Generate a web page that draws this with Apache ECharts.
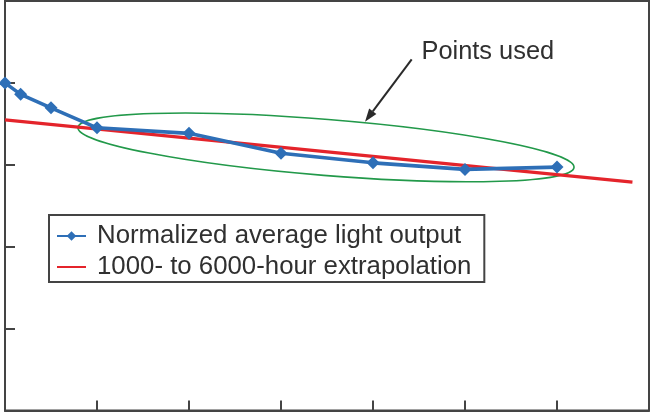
<!DOCTYPE html>
<html><head><meta charset="utf-8">
<script src="https://cdn.jsdelivr.net/npm/echarts@6/dist/echarts.min.js"></script>
<style>html,body{margin:0;padding:0;background:#fff}#c{width:650px;height:413px}</style>
</head><body><div id="c"></div>
<script>
// ---- data ----
const hours = [0, 170, 500, 1000, 2000, 3000, 4000, 5000, 6000];
const lightOutput = [100, 96.5, 92.4, 86.3, 84.6, 78.5, 75.6, 73.6, 74.3];
const extrapHours = [0, 6820];
const extrapValues = [88.7, 69.7];
const xRange = [0, 7000, 1000];
const yRange = [0, 125, 25];
const seriesNames = ['Normalized average light output', '1000- to 6000-hour extrapolation'];
const annotationText = 'Points used';
const ellipseEnds = [[793, 86.4], [6185, 74.2]];

const axisColor = '#444';
const textColor = '#303030';
const blue = '#2e6fb7';
const red = '#e4242b';

const chart = echarts.init(document.getElementById('c'), null, {renderer: 'canvas'});
const option = {
  animation: false,
  backgroundColor: '#fff',
  grid: {left: 5, right: 1, top: 1, bottom: 2.5, show: true, borderColor: axisColor, borderWidth: 2, containLabel: false},
  xAxis: {
    type: 'value', min: xRange[0], max: xRange[1], interval: xRange[2],
    axisLine: {show: true, lineStyle: {color: axisColor, width: 2}},
    axisTick: {show: true, inside: true, length: 10, lineStyle: {color: axisColor, width: 2}},
    axisLabel: {show: false}, splitLine: {show: false}
  },
  yAxis: {
    type: 'value', min: yRange[0], max: yRange[1], interval: yRange[2],
    axisLine: {show: true, lineStyle: {color: axisColor, width: 2}},
    axisTick: {show: true, inside: true, length: 10, lineStyle: {color: axisColor, width: 2}},
    axisLabel: {show: false}, splitLine: {show: false}
  },
  legend: {
    left: 49, top: 215, orient: 'vertical',
    backgroundColor: '#fff',
    borderColor: axisColor, borderWidth: 2,
    padding: [8, 13, 2, 7],
    itemGap: 5, itemWidth: 29, itemHeight: 12,
    textStyle: {fontFamily: 'Liberation Sans, Arial, sans-serif', fontSize: 25.8, color: textColor, padding: [0, 0, 0, 6]},
    data: [
      {name: seriesNames[0]},
      {name: seriesNames[1], itemStyle: {opacity: 0}}
    ]
  },
  series: [
    {
      name: seriesNames[1], type: 'line', z: 2,
      data: extrapHours.map((h, i) => [h, extrapValues[i]]),
      showSymbol: false, symbol: 'none',
      lineStyle: {color: red, width: 3.2}, itemStyle: {color: red}
    },
    {
      name: seriesNames[0], type: 'line', z: 3,
      data: hours.map((h, i) => [h, lightOutput[i]]),
      symbol: 'diamond', symbolSize: 13,
      lineStyle: {color: blue, width: 3.6}, itemStyle: {color: blue}
    }
  ]
};
chart.setOption(option);

// annotations
const p1 = chart.convertToPixel({gridIndex: 0}, ellipseEnds[0]);
const p2 = chart.convertToPixel({gridIndex: 0}, ellipseEnds[1]);
const cx = (p1[0] + p2[0]) / 2, cy = (p1[1] + p2[1]) / 2;
const dx = p2[0] - p1[0], dy = p2[1] - p1[1];
const ang = Math.atan2(dy, dx);
const rx = Math.sqrt(dx * dx + dy * dy) / 2;

const tip = [365, 121.7], tail = [411.7, 59.3];
const L = Math.hypot(tail[0] - tip[0], tail[1] - tip[1]);
const u = [(tip[0] - tail[0]) / L, (tip[1] - tail[1]) / L];
const base = [tip[0] - 13 * u[0], tip[1] - 13 * u[1]];
const n = [-u[1], u[0]];
chart.setOption({
  graphic: [
    {type: 'ellipse', x: cx, y: cy, rotation: -ang, z: 1,
     shape: {cx: 0, cy: 0, rx: rx, ry: 28},
     style: {fill: 'none', stroke: '#22994a', lineWidth: 1.6}},
    {type: 'line', z: 5, shape: {x1: tail[0], y1: tail[1], x2: base[0], y2: base[1]},
     style: {stroke: '#2a2a2a', lineWidth: 2}},
    {type: 'polygon', z: 5, shape: {points: [tip, [base[0] + 4.5 * n[0], base[1] + 4.5 * n[1]], [base[0] - 4.5 * n[0], base[1] - 4.5 * n[1]]]},
     style: {fill: '#2a2a2a'}},
    {type: 'text', z: 5, x: 421.5, y: 52.2,
     style: {text: annotationText, font: '25.4px "Liberation Sans", Arial, sans-serif', fill: textColor, align: 'left', verticalAlign: 'middle'}}
  ]
});
</script></body></html>
